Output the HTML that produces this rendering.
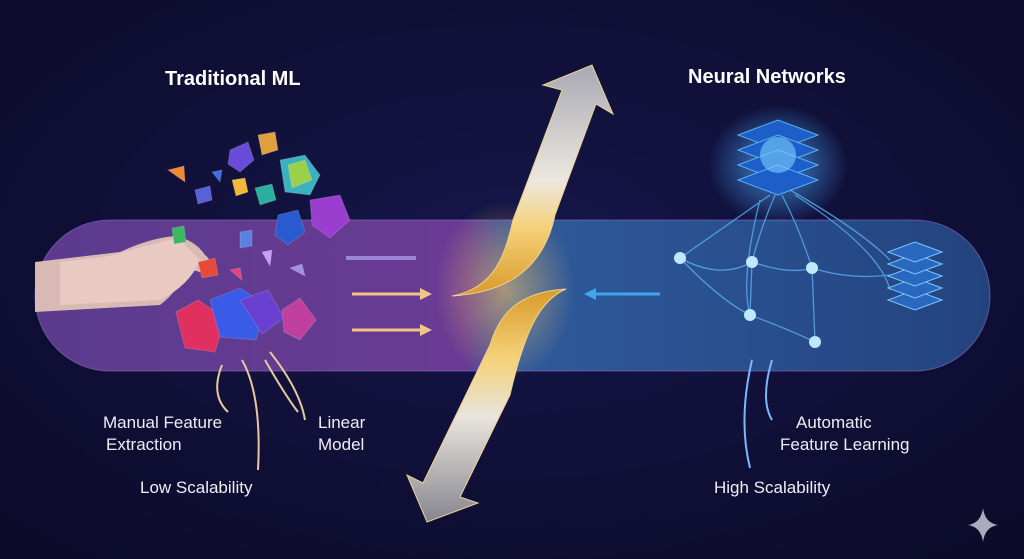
<!DOCTYPE html>
<html><head><meta charset="utf-8"><style>
html,body{margin:0;padding:0;background:#100f33;}
body{width:1024px;height:559px;overflow:hidden;position:relative;font-family:"Liberation Sans",sans-serif;}
svg{position:absolute;left:0;top:0;}
</style></head><body>
<svg width="1024" height="559" viewBox="0 0 1024 559">
<defs>
<radialGradient id="bg" cx="50%" cy="45%" r="70%"><stop offset="0" stop-color="#15164a"/><stop offset="1" stop-color="#0c0b2a"/></radialGradient>
<linearGradient id="band" x1="0" x2="1"><stop offset="0" stop-color="#5b3b8d"/><stop offset="0.45" stop-color="#6a3b94"/><stop offset="0.5" stop-color="#2f5a9c"/><stop offset="1" stop-color="#23437e"/></linearGradient>
<linearGradient id="up" x1="0" y1="1" x2="0" y2="0"><stop offset="0" stop-color="#d99a2a"/><stop offset="0.3" stop-color="#f5d27a"/><stop offset="0.5" stop-color="#ece8e0"/><stop offset="1" stop-color="#a8a8b2"/></linearGradient>
<linearGradient id="dn" x1="0" y1="0" x2="0" y2="1"><stop offset="0" stop-color="#d99a2a"/><stop offset="0.3" stop-color="#f5d27a"/><stop offset="0.55" stop-color="#e8e4dc"/><stop offset="1" stop-color="#85858f"/></linearGradient>
<radialGradient id="glow"><stop offset="0" stop-color="#ffc860" stop-opacity="0.55"/><stop offset="1" stop-color="#ffc860" stop-opacity="0"/></radialGradient>
<radialGradient id="bglow"><stop offset="0" stop-color="#4aa8ff" stop-opacity="0.8"/><stop offset="1" stop-color="#4aa8ff" stop-opacity="0"/></radialGradient>
</defs>
<rect width="1024" height="559" fill="url(#bg)"/>
<rect x="35" y="220" width="955" height="151" rx="75" fill="url(#band)" stroke="#8a6cc0" stroke-opacity="0.6"/>
<!-- hand -->
<path d="M35 262 L120 252 Q150 238 175 236 Q195 240 205 255 Q215 262 200 272 L185 268 Q180 290 160 305 L35 312 Z" fill="#d8b9b4"/>
<path d="M60 262 L110 256 Q150 244 178 238 L200 260 Q190 285 160 300 L60 305 Z" fill="#e8cac3"/>
<!-- gems -->
<g stroke="#ffffff" stroke-opacity="0.15">
<polygon points="230,150 248,142 254,160 240,172 228,164" fill="#6a4ad8"/>
<polygon points="258,135 275,132 278,150 262,155" fill="#e0a040"/>
<polygon points="280,160 305,155 320,175 310,195 285,192" fill="#3bb0c0"/>
<polygon points="288,165 305,160 312,180 292,188" fill="#9bd04a"/>
<polygon points="168,170 184,166 185,182" fill="#f08a30"/>
<polygon points="212,172 222,170 220,182" fill="#3a70e0"/>
<polygon points="232,180 245,178 248,192 236,196" fill="#f2b838"/>
<polygon points="195,190 210,186 212,200 198,204" fill="#5a60d8"/>
<polygon points="255,188 272,184 276,200 260,205" fill="#2bb0a0"/>
<polygon points="310,200 340,195 350,220 330,238 312,225" fill="#9a3ed0"/>
<polygon points="278,215 298,210 305,232 288,245 275,235" fill="#2a5ad0"/>
<polygon points="240,232 252,230 252,246 240,248" fill="#5a80e0"/>
<polygon points="172,228 184,226 186,242 174,244" fill="#3ab860"/>
<polygon points="198,262 215,258 218,275 202,278" fill="#e84a3a"/>
<polygon points="262,252 272,250 270,266" fill="#c8a0f0"/>
<polygon points="290,268 302,264 305,276" fill="#a090e0"/>
<polygon points="230,270 240,268 242,280" fill="#e84080"/>
<polygon points="176,312 198,300 225,318 215,352 185,348" fill="#e03060"/>
<polygon points="210,300 240,288 266,305 256,340 220,337" fill="#3a5ae8"/>
<polygon points="240,300 268,290 284,318 262,334" fill="#6a40d0"/>
<polygon points="282,310 300,298 316,320 300,340 284,332" fill="#c040a0"/>
</g>
<!-- curved pointers -->
<g fill="none" stroke="#e8c8a0" stroke-width="2">
<path d="M222 365 Q210 395 228 412"/><path d="M242 360 Q262 395 258 470"/><path d="M270 352 Q300 390 305 420"/><path d="M265 360 Q285 395 298 412"/>
<path d="M772 360 Q760 400 772 420" stroke="#7ab8ff"/><path d="M752 360 Q738 420 750 468" stroke="#7ab8ff"/>
</g>
<!-- small arrows -->
<line x1="346" y1="258" x2="416" y2="258" stroke="#9d86d8" stroke-width="4"/>
<line x1="352" y1="294" x2="420" y2="294" stroke="#f1c58a" stroke-width="3"/><polygon points="420,288 432,294 420,300" fill="#f1c58a"/>
<line x1="352" y1="330" x2="420" y2="330" stroke="#f1c58a" stroke-width="3"/><polygon points="420,324 432,330 420,336" fill="#f1c58a"/>
<line x1="596" y1="294" x2="660" y2="294" stroke="#3fa6ee" stroke-width="3"/><polygon points="596,288 584,294 596,300" fill="#3fa6ee"/>
<!-- neural net -->
<ellipse cx="778" cy="165" rx="70" ry="60" fill="url(#bglow)"/>
<g fill="#1e5ec8" stroke="#6ac8ff" stroke-opacity="0.8">
<polygon points="738,135 778,120 818,135 778,150"/><polygon points="738,150 778,135 818,150 778,165"/><polygon points="738,165 778,150 818,165 778,180"/><polygon points="738,180 778,165 818,180 778,195"/>
</g>
<circle cx="778" cy="155" r="18" fill="#7ad0ff" opacity="0.6"/>
<g fill="none" stroke="#5aaef0" stroke-width="1.3" opacity="0.8">
<path d="M770 195 Q720 230 680 258"/><path d="M775 195 Q760 230 752 262"/><path d="M782 195 Q800 230 812 268"/><path d="M790 190 Q860 230 890 260"/><path d="M795 195 Q880 250 890 290"/>
<path d="M680 258 Q720 280 752 262"/><path d="M752 262 Q790 275 812 268"/><path d="M752 262 L750 315"/><path d="M812 268 L815 342"/><path d="M750 315 Q790 330 815 342"/><path d="M680 258 Q720 300 750 315"/><path d="M812 268 Q850 280 890 275"/><path d="M760 200 Q740 280 750 315"/>
</g>
<g fill="#bfe8ff"><circle cx="680" cy="258" r="6"/><circle cx="752" cy="262" r="6"/><circle cx="812" cy="268" r="6"/><circle cx="750" cy="315" r="6"/><circle cx="815" cy="342" r="6"/></g>
<g fill="#2a68c0" stroke="#7ac8ff"><polygon points="888,300 915,290 942,300 915,310"/><polygon points="888,288 915,278 942,288 915,298"/><polygon points="888,276 915,266 942,276 915,286"/><polygon points="888,264 915,254 942,264 915,274"/><polygon points="888,252 915,242 942,252 915,262"/></g>
<!-- center arrow -->
<ellipse cx="505" cy="290" rx="70" ry="90" fill="url(#glow)"/>
<path d="M452,296 C495,288 505,255 513,220 L562,90 L543,85 L592,65 L613,114 L596,104 L555,215 C545,262 515,292 452,296 Z" fill="url(#up)" stroke="#f0d090" stroke-width="1"/>
<path d="M566,289 C520,292 500,312 490,345 L423,483 L407,475 L427,522 L478,503 L460,497 L510,395 C525,330 540,300 566,289 Z" fill="url(#dn)" stroke="#f0d090" stroke-width="1"/>
<!-- sparkle -->
<path d="M983 508 Q985 523 998 525 Q985 527 983 542 Q981 527 968 525 Q981 523 983 508 Z" fill="#c8c8d8" opacity="0.85"/>
<!-- text -->
<g fill="#ffffff" font-family="Liberation Sans, sans-serif" font-weight="bold" font-size="20">
<text x="165" y="85">Traditional ML</text><text x="688" y="83">Neural Networks</text></g>
<g fill="#f0ecf4" font-family="Liberation Sans, sans-serif" font-size="17">
<text x="103" y="428">Manual Feature</text><text x="106" y="450">Extraction</text>
<text x="318" y="428">Linear</text><text x="318" y="450">Model</text>
<text x="140" y="493">Low Scalability</text>
<text x="796" y="428">Automatic</text><text x="780" y="450">Feature Learning</text>
<text x="714" y="493">High Scalability</text></g>
</svg>
</body></html>
